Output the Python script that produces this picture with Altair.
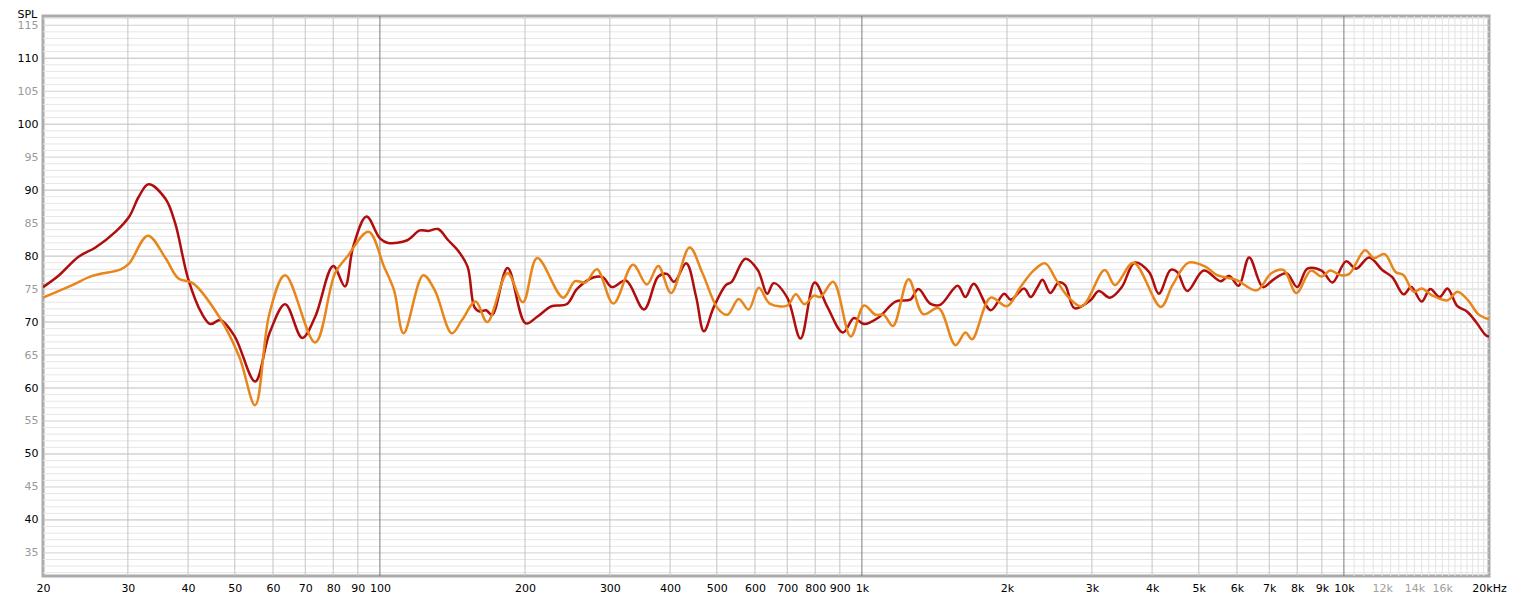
import altair as alt
import pandas as pd

# ---- data ----
red_f = [20, 21.6, 23.7, 25.7, 28.3, 30.2, 31.6, 33.1, 35.9, 37.6, 40, 42.7, 44.5, 46.7, 50, 55.1, 59, 63.6, 69, 73.4,
         80, 84.6, 88, 93.8, 100, 104, 114, 121, 126, 132, 138.6, 145, 152, 157, 161, 166, 171, 184, 200.6, 212,
         227, 244, 257, 278, 290, 303, 324, 353, 378, 394, 408, 432, 453, 470, 493, 522, 537, 573, 608, 636,
         656, 700, 746, 798, 848, 913, 963, 1010, 1083, 1174, 1260, 1310, 1385, 1453, 1580, 1640, 1706, 1850, 1973, 2036,
         2170, 2240, 2310, 2370, 2460, 2560, 2640, 2760, 2980, 3100, 3270, 3460, 3680, 3940, 4130, 4370, 4510, 4730, 5120, 5550,
         5780, 6050, 6360, 6790, 7130, 7600, 8000, 8400, 8990, 9470, 10100, 10600, 11280, 12010, 12600, 13300, 13800, 14500, 15100, 15800,
         16400, 17200, 18000, 18800, 19700, 20000]
red_db = [75.3, 77.1, 79.9, 81.3, 83.7, 86.0, 89.0, 90.9, 88.7, 85.0, 76.6, 71.3, 69.7, 70.3, 67.8, 61.0, 68.3, 72.7, 67.6, 70.8,
          78.5, 75.4, 81.4, 86.0, 82.7, 82.0, 82.4, 83.9, 83.8, 84.1, 82.4, 80.9, 78.4, 72.3, 71.6, 71.8, 71.1, 78.2, 69.8, 70.8,
          72.4, 72.7, 75.1, 76.8, 76.8, 75.3, 76.3, 71.9, 76.9, 77.3, 76.1, 78.9, 73.8, 68.6, 72.3, 75.6, 76.1, 79.6, 77.9, 74.3,
          75.9, 73.7, 67.5, 76.0, 72.3, 68.4, 70.6, 69.7, 70.7, 73.1, 73.4, 75.0, 72.8, 72.6, 75.5, 73.8, 75.8, 71.8, 74.3, 73.4,
          75.1, 73.8, 75.2, 76.4, 74.4, 76.0, 75.6, 72.1, 73.3, 74.7, 73.7, 75.3, 79.0, 77.6, 74.3, 77.9, 77.6, 74.7, 77.8, 76.2,
          77.0, 75.5, 79.8, 75.3, 76.4, 77.4, 75.3, 78.1, 77.8, 76.0, 79.2, 78.1, 79.8, 77.9, 76.8, 74.2, 75.3, 73.1, 75.0, 73.8,
          75.1, 72.4, 71.6, 70.0, 68.0, 67.8]

orange_f = [20, 23, 25.3, 29, 30.2, 33, 35.9, 38.2, 40.9, 46.4, 51.1, 55.1, 59, 63.6, 73.4, 80.7, 85.5, 94.7, 102, 107,
            112, 123, 130, 141, 148, 158, 167, 184, 198, 212, 240, 254, 267, 282, 305, 335, 358, 378, 402, 439,
            467, 502, 526, 555, 582, 611, 644, 700, 729, 760, 795, 820, 872, 948, 1010, 1067, 1110, 1160, 1250, 1340,
            1442, 1563, 1640, 1693, 1850, 2000, 2133, 2270, 2400, 2530, 2680, 2860, 3190, 3350, 3660, 4170, 4410, 4760, 5160, 5460,
            5980, 6590, 7070, 7490, 7970, 8540, 8990, 9360, 9860, 10260, 11060, 11540, 12150, 12800, 13300, 13950, 14500, 15200, 16400, 17200,
            18100, 19000, 20000]
orange_db = [73.7, 75.6, 77.0, 78.0, 78.9, 83.1, 79.7, 76.6, 75.9, 70.8, 64.7, 57.4, 71.3, 77.1, 66.9, 77.4, 79.9, 83.7, 78.4, 74.8,
             68.3, 77.1, 74.8, 68.3, 70.3, 73.1, 70.0, 77.4, 73.0, 79.7, 73.7, 76.2, 76.0, 78.0, 72.8, 78.7, 75.7, 78.5, 74.4, 81.3,
             77.4, 72.1, 71.1, 73.5, 71.9, 75.2, 72.8, 72.5, 74.2, 72.7, 74.0, 73.8, 76.1, 67.8, 72.5, 71.1, 71.1, 69.4, 76.5, 71.2,
             72.1, 66.5, 68.4, 67.4, 73.7, 72.4, 75.3, 77.8, 78.9, 76.4, 73.8, 72.4, 77.9, 75.6, 79.0, 72.3, 75.6, 79.0, 78.4, 77.1,
             76.4, 74.8, 77.4, 77.9, 74.4, 77.8, 76.9, 77.8, 77.1, 77.3, 80.9, 79.7, 80.3, 77.6, 77.1, 74.6, 75.1, 74.1, 73.3, 74.6,
             73.3, 71.2, 70.4]

x_ticks = [20, 30, 40, 50, 60, 70, 80, 90, 100, 200, 300, 400, 500, 600, 700, 800, 900, 1000,
           2000, 3000, 4000, 5000, 6000, 7000, 8000, 9000, 10000, 12000, 14000, 16000, 20000]
x_gray_labels = [12000, 14000, 16000]
x_dark_lines = [100, 1000, 10000]
x_fine_lines = [10500, 11000, 11500, 12000, 12500, 13000, 13500, 14000, 14500, 15000, 15500,
                16000, 16500, 17000, 17500, 18000, 18500, 19000, 19500]
y_ticks = [35, 40, 45, 50, 55, 60, 65, 70, 75, 80, 85, 90, 95, 100, 105, 110, 115]
y_grid = list(range(32, 117))

W, H = 1446, 560
FONT = "DejaVu Sans"
xscale = alt.Scale(type="log", domain=[20, 20000], nice=False)
yscale = alt.Scale(domain=[31.5, 116.4], nice=False, zero=False)

gray_test = " || ".join("datum.value == %d" % v for v in x_gray_labels)
x_axis = alt.Axis(
    values=x_ticks, grid=False, ticks=False, domain=False, title=None,
    labelExpr="datum.value >= 20000 ? '20kHz' : (datum.value >= 1000 ? (datum.value / 1000) + 'k' : datum.value + '')",
    labelFont=FONT, labelFontSize=11, labelPadding=6, labelFlush=False, labelOverlap=False,
    labelColor={"condition": {"test": gray_test, "value": "#a0a0a0"}, "value": "#000000"},
)
y_axis = alt.Axis(
    values=y_ticks, grid=False, ticks=False, domain=False,
    title="SPL", titleAngle=0, titleAlign="left", titleBaseline="top", titleX=-26, titleY=-8,
    titleFont=FONT, titleFontSize=11, titleFontWeight="normal", titleColor="#000000",
    labelFont=FONT, labelFontSize=11, labelPadding=5,
    labelColor={"condition": {"test": "datum.value % 10 == 0", "value": "#000000"}, "value": "#9a9a9a"},
)

# ---- grid ----
hg = pd.DataFrame({
    "db": y_grid,
    "col": ["#bdbdbd" if v % 10 == 0 else ("#d0d0d0" if v % 5 == 0 else "#e6e6e6") for v in y_grid],
})
vlines = [v for v in x_ticks if v not in x_dark_lines and v not in (20, 20000) and v not in x_fine_lines]
vg = pd.DataFrame({
    "f": vlines + x_dark_lines + x_fine_lines,
    "col": ["#c4c4c4"] * len(vlines) + ["#7a7a7a"] * len(x_dark_lines) + ["#e3e3e3"] * len(x_fine_lines),
})

hgrid = alt.Chart(hg).mark_rule(strokeWidth=1).encode(
    y=alt.Y("db:Q", scale=yscale, axis=y_axis),
    color=alt.Color("col:N", scale=None),
)
vgrid = alt.Chart(vg).mark_rule(strokeWidth=1).encode(
    x=alt.X("f:Q", scale=xscale, axis=x_axis),
    color=alt.Color("col:N", scale=None),
)

red = alt.Chart(pd.DataFrame({"f": red_f, "db": red_db})).mark_line(
    color="#b00d0d", strokeWidth=2.5, interpolate="catmull-rom", clip=True
).encode(
    x=alt.X("f:Q", scale=xscale, axis=x_axis),
    y=alt.Y("db:Q", scale=yscale, axis=y_axis),
)
orange = alt.Chart(pd.DataFrame({"f": orange_f, "db": orange_db})).mark_line(
    color="#e8861c", strokeWidth=2.5, interpolate="catmull-rom", clip=True
).encode(
    x=alt.X("f:Q", scale=xscale, axis=x_axis),
    y=alt.Y("db:Q", scale=yscale, axis=y_axis),
)

chart = alt.layer(hgrid, vgrid, red, orange).properties(
    width=W, height=H,
    autosize=alt.AutoSizeParams(type="none"),
    padding={"left": 35, "top": 8, "right": 19, "bottom": 19},
    background="white",
).configure_view(stroke="#ababab", strokeWidth=3)

chart.save("out.html", embed_options={"renderer": "svg", "actions": False})
